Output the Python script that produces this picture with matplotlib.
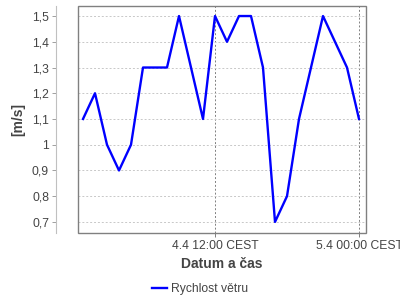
import matplotlib
matplotlib.use("Agg")
import matplotlib.pyplot as plt
from matplotlib.patches import Rectangle

plt.rcParams['font.family'] = ['Liberation Sans', 'DejaVu Sans']

hours = list(range(1, 25))
speed = [1.1, 1.2, 1.0, 0.9, 1.0, 1.3, 1.3, 1.3, 1.5, 1.3, 1.1, 1.5,
         1.4, 1.5, 1.5, 1.3, 0.7, 0.8, 1.1, 1.3, 1.5, 1.4, 1.3, 1.1]
x_ticks = [12, 24]
x_tick_labels = ["4.4 12:00 CEST", "5.4 00:00 CEST"]
y_ticks = [0.7, 0.8, 0.9, 1.0, 1.1, 1.2, 1.3, 1.4, 1.5]
y_tick_labels = ["0,7", "0,8", "0,9", "1", "1,1", "1,2", "1,3", "1,4", "1,5"]
series_name = "Rychlost větru"

fig = plt.figure(figsize=(4, 3), dpi=100)
ax = fig.add_axes([78/400, 1-233/300, (366-78)/400, (233-6)/300])

ax.plot(hours, speed, color='#0000FF', lw=1.7, label=series_name, zorder=3)

ax.set_xlim(1 - 5/12, 24 + 7/12)
ax.set_ylim(0.657, 1.539)

ax.set_yticks(y_ticks)
ax.set_yticklabels(y_tick_labels)
ax.set_xticks(x_ticks)
ax.set_xticklabels(x_tick_labels)

ax.yaxis.grid(True, color='#c8c8c8', ls=(0, (2, 2)), lw=0.7)
ax.xaxis.grid(True, color='#808080', ls=(0, (2, 2)), lw=0.7)
ax.set_axisbelow(True)

for s in ['top', 'right', 'bottom']:
    ax.spines[s].set_visible(False)
ax.spines['left'].set_position(('outward', 22*0.72))
ax.spines['left'].set_color('#c0c0c0')
ax.spines['left'].set_linewidth(0.8)

ax.add_patch(Rectangle((0, 0), 1, 1, transform=ax.transAxes, fill=False,
                       edgecolor='#808080', lw=1.0, clip_on=False, zorder=4))

ax.tick_params(axis='y', length=3, width=0.7, color='#a0a0a0', labelsize=8.7,
               labelcolor='#444444', pad=2)
ax.tick_params(axis='x', length=3, width=0.7, color='#808080', labelsize=8.7,
               labelcolor='#444444', pad=2)

ax.set_ylabel("[m/s]", fontsize=10, fontweight='bold', color='#444444', labelpad=5)
ax.set_xlabel("Datum a čas", fontsize=10, fontweight='bold', color='#444444', labelpad=4)

fig.legend(loc='center', bbox_to_anchor=(0.5, 1-289/300), frameon=False,
           fontsize=8.7, handlelength=1.3, handletextpad=0.3, labelcolor='#444444')

fig.savefig("out.png", dpi=100)
